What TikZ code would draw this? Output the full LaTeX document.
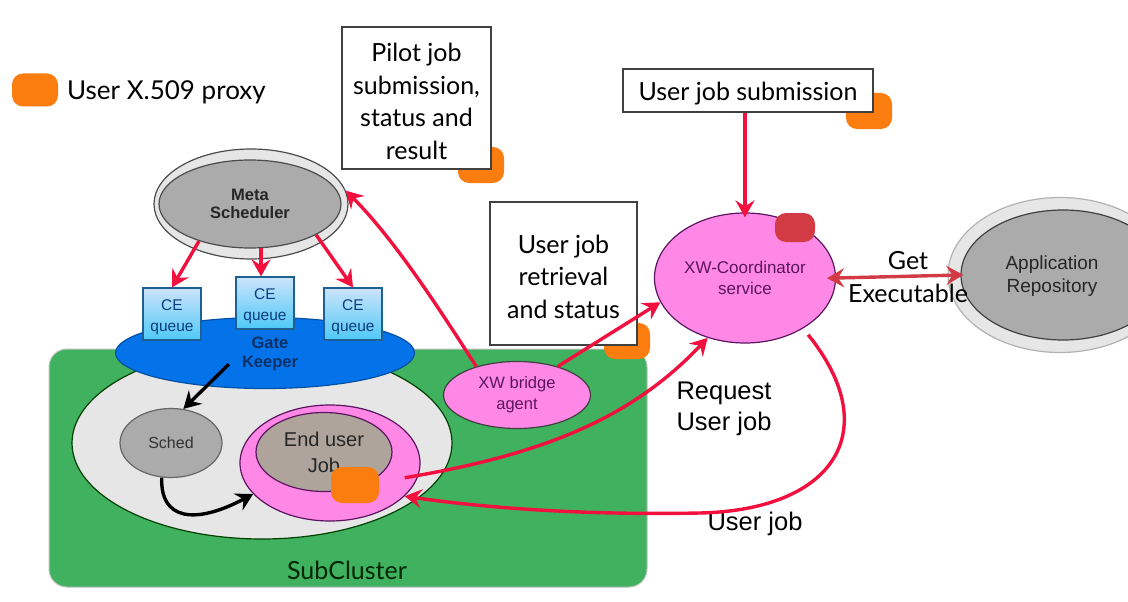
\documentclass[tikz,border=0pt]{standalone}
\usepackage{fontspec}
\setmainfont{Liberation Sans}
\newfontfamily\geo{Lato}
\usetikzlibrary{arrows.meta,shapes.geometric}
\definecolor{cgreen}{HTML}{3FB15F}
\definecolor{cblue}{HTML}{0473EA}
\definecolor{cgrey}{HTML}{ABABAB}
\definecolor{clight}{HTML}{E6E6E6}
\definecolor{cpink}{HTML}{FF88E6}
\definecolor{corange}{HTML}{FB7D10}
\definecolor{cred}{HTML}{F2103F}
\definecolor{cdred}{HTML}{D23A44}
\definecolor{cpurple}{HTML}{5A1560}
\definecolor{cceb}{HTML}{1E5F94}
\definecolor{ccet}{HTML}{0B3C80}
\newcommand{\lift}[1]{\rule{0pt}{#1pt}}
\tikzset{
  oval/.style={ellipse,draw=#1,line width=1.2pt,inner sep=0pt,align=center},
  oval/.default={black!70},
  ceq/.style={rectangle,draw=cceb,line width=1.2pt,top color=white!80!cblue,bottom color=cblue!55!cyan!70!white,
    minimum width=58pt,minimum height=52pt,inner sep=0pt,align=center,text=ccet,font=\fontsize{15.5}{20.5}\selectfont},
  blob/.style={rectangle,rounded corners=11pt,fill=corange,minimum width=46pt,minimum height=36pt,inner sep=0pt},
  lbox/.style={rectangle,draw=black!75,fill=white,line width=1.1pt,inner sep=0pt,align=center,
    font=\geo\fontsize{25}{32.5}\selectfont},
  geotext/.style={inner sep=0pt,align=center,font=\geo\fontsize{25}{32}\selectfont},
  sanstext/.style={inner sep=0pt,align=center,font=\fontsize{25.5}{30.5}\selectfont},
  redarrow/.style={draw=cred,line width=3.4pt,-{Stealth[length=17pt,width=19pt,inset=6pt]}},
  blackarrow/.style={draw=black,line width=3.4pt,-{Stealth[length=17pt,width=19pt,inset=6pt]}},
}
\begin{document}
\begin{tikzpicture}[x=1pt,y=-1pt]
\useasboundingbox (0,0) rectangle (1128,602);
\clip (0,0) rectangle (1128,602);
\fill[white] (0,0) rectangle (1128,602);

% legend
\node[blob] (legendblob) at (35,90) [minimum height=33pt] {};
\node[geotext,anchor=west,font=\geo\fontsize{26}{32}\selectfont] (legendtext) at (67,92) {User X.509 proxy};

% subcluster
\node[rectangle,rounded corners=18pt,fill=cgreen,draw=black!25,line width=1pt,minimum width=598pt,minimum height=238pt,inner sep=0pt] (sub) at (348,468) {};
\node[geotext,text=black!85!green] (subl) at (347,570) {SubCluster};
\node[oval=black!75!green,fill=clight,minimum width=380pt,minimum height=192pt] (cluster) at (262,443) {};

% meta scheduler
\node[oval,fill=clight,minimum width=194pt,minimum height=110pt] (metaouter) at (251,204) {};
\node[oval,fill=cgrey,minimum width=182pt,minimum height=88pt,font=\bfseries\fontsize{16.5}{18}\selectfont,text=black!85] (meta) at (250,204) {Meta\\Scheduler};

% gatekeeper
\node[oval=cblue!70!black,fill=cblue,minimum width=299pt,minimum height=71pt] (gate) at (265,353) {};
\node[inner sep=0pt,align=center,text=ccet!80!black,font=\bfseries\fontsize{16.5}{18.5}\selectfont] (gatel) at (270,354) {Gate\\Keeper};

% CE queues
\node[ceq] (ce1) at (172,314) {\lift{17}CE\\queue};
\node[ceq] (ce2) at (265,303) {\lift{17}CE\\queue};
\node[ceq] (ce3) at (353,314) {\lift{17}CE\\queue};

% sched and job
\node[oval=black!60,fill=cgrey,minimum width=102pt,minimum height=69pt,font=\fontsize{16}{20}\selectfont,text=black!80] (sched) at (171,443) {Sched};
\node[oval=cpurple,fill=cpink,minimum width=180pt,minimum height=116pt] (pink) at (330,463) {};
\node[oval=cpurple,fill=cgrey!85!brown,minimum width=136pt,minimum height=79pt,font=\fontsize{20}{26}\selectfont,text=black!85] (job) at (324,452) {End user\\Job};
\node[blob,minimum width=48pt] (jobblob) at (355,485) {};

% bridge
\node[oval=black!75,fill=cpink,minimum width=147pt,minimum height=67pt,font=\fontsize{16.5}{21}\selectfont,text=cpurple] (bridge) at (517,395) {XW bridge\\agent};

% coordinator
\node[oval=cpurple,fill=cpink,minimum width=181pt,minimum height=130pt,font=\fontsize{17}{21}\selectfont,text=cpurple] (coord) at (745,278) {XW-Coordinator\\service};
\node[blob,fill=cdred,minimum width=40pt,minimum height=29pt] (coordblob) at (795,227.5) {};

% repository
\node[oval=black!30,fill=clight,minimum width=224pt,minimum height=155pt] (repoouter) at (1060,275) {};
\node[oval=black!75,fill=cgrey,minimum width=204pt,minimum height=130pt] (repo) at (1063,275) {};
\node[inner sep=0pt,align=center,font=\fontsize{19}{22.5}\selectfont,text=black!85] (repol) at (1052,276) {Application\\Repository};

% labelled boxes and their proxies
\node[blob] (pilotblob) at (481,165) {};
\node[lbox,minimum width=149pt,minimum height=142pt] (pilot) at (416.5,98) {\lift{25}Pilot job\\submission,\\status and\\result};
\node[blob] (subblob) at (869,111) {};
\node[lbox,minimum width=250pt,minimum height=43pt] (submit) at (748,90.5) {\lift{25}User job submission};
\node[blob] (retrblob) at (627,341) {};
\node[lbox,minimum width=147pt,minimum height=143pt] (retr) at (563.5,273.5) {\lift{25}User job\\retrieval\\and status};

% connector labels
\node[sanstext] (reql) at (724,409) {Request\\User job};
\node[sanstext] (userl) at (755,524) {User job};
\node[geotext] (getl) at (908,261) {Get};
\node[geotext] (execl) at (908,293) {Executable};

% connectors
\draw[redarrow] (meta.216) -- (ce1.north);
\draw[redarrow] (meta.-76) -- (ce2.north -| meta.-76);
\draw[redarrow] (meta.-25) -- (ce3.north);
\draw[redarrow] (bridge.145) .. controls (440,310) and (395,240) .. (metaouter.8);
\draw[redarrow] (bridge.35) -- (coord.196);
\draw[redarrow] (submit.south -| coord.north) -- ([yshift=-5pt]coord.north);
\draw[redarrow,shorten <=-14pt] (pink.-8) .. controls (540,455) and (630,420) .. (coord.238);
\draw[redarrow,shorten <=8pt] (coord.-41) .. controls (885,430) and (835,510) .. (700,513) .. controls (600,515) and (500,510) .. (pink.-24);
\draw[draw=cdred,line width=3.4pt,{Stealth[length=17pt,width=19pt,inset=6pt]}-{Stealth[length=17pt,width=19pt,inset=6pt]},shorten <=-9pt,shorten >=-3pt] (coord.0) -- (repo.180);
\draw[blackarrow] ([xshift=-13pt]gatel.200) -- (sched.70);
\draw[blackarrow] (sched.-105) .. controls (160,520) and (195,525) .. (pink.-158);
\end{tikzpicture}
\end{document}
